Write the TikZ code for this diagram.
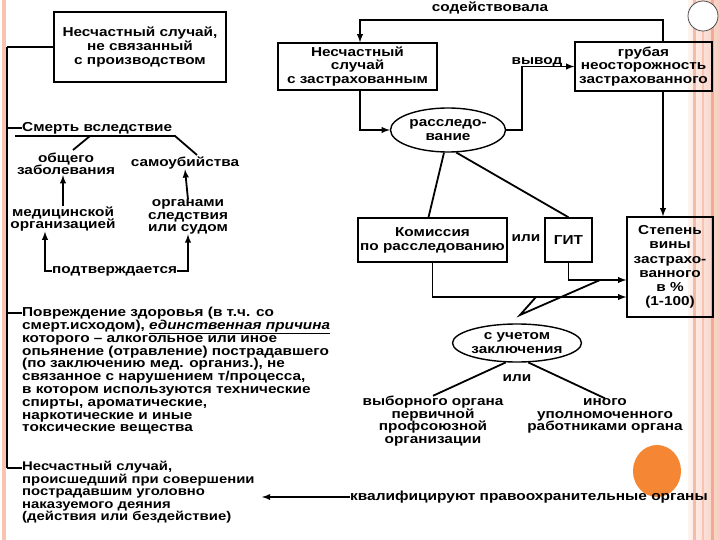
\documentclass[tikz,border=0pt]{standalone}
\usepackage{fontspec}
\setmainfont{Liberation Sans}[FakeStretch=1.18]
\usetikzlibrary{shapes.geometric}
\definecolor{salmon}{RGB}{243,170,148}
\definecolor{peach}{RGB}{252,226,214}
\definecolor{dotorange}{RGB}{245,134,52}
\tikzset{
  box/.style={draw, line width=1.4pt, align=center, inner sep=1pt},
  oval/.style={draw, ellipse, line width=1.4pt, align=center, inner sep=0pt},
  txt/.style={align=center, inner sep=0pt},
  line/.style={line width=1.8pt},
}

\begin{document}
\begin{tikzpicture}[x=1pt, y=-1pt, font=\bfseries\fontsize{13}{13.8}\selectfont]
                    \useasboundingbox (0,0) rectangle (720,540);
                    \fill[white] (0,0) rectangle (720,540);
                    \fill[salmon!70] (2,0) rectangle (6,540);
                    \shade[left color=peach!40, right color=salmon!60] (688,0) rectangle (720,540);
                    \fill[salmon!80] (693,0) rectangle (696,540);
                    \fill[salmon!70] (702,0) rectangle (704,540);
                    \fill[salmon] (711,0) rectangle (714,540);
                    \draw[gray!60!black, line width=0.8pt, fill=white] (703,16) circle (15pt);
                    \fill[dotorange] (657,471) ellipse (24pt and 26pt);

                    \node[box, minimum width=172, minimum height=70] (nsProizv) at (140,47) {Несчастный случай,\\ не связанный\\ с производством};
                    \node[box, minimum width=159, minimum height=47] (nsZastr) at (357.5,66.5) {Несчастный\\ случай\\ с застрахованным};
                    \node[box, minimum width=137, minimum height=49] (grubaya) at (643.5,66.5) {грубая\\ неосторожность\\ застрахованного};
                    \node[oval, minimum width=115, minimum height=44] (rassl) at (448,130) {расследо-\\вание};
                    \node[txt] (sodeist) at (490,8) {содействовала};
                    \node[txt] (vyvod) at (537,62) {вывод};

                    \node[box, minimum width=149, minimum height=44] (komis) at (432.5,240) {Комиссия\\ по расследованию};
                    \node[txt] (ili1) at (526,238) {или};
                    \node[box, minimum width=47, minimum height=44] (git) at (568.5,240) {ГИТ};
                    \node[box, minimum width=86, minimum height=100, font=\bfseries\fontsize{13}{14.2}\selectfont] (stepen) at (670,267) {Степень\\ вины\\ застрахо-\\ванного\\ в \%\\ (1-100)};
                    \node[oval, minimum width=110, minimum height=38] (uchet) at (517,343) {с учетом\\ заключения};
                    \node[txt] (ili2) at (517,378) {или};
                    \node[txt, font=\bfseries\fontsize{13}{12.6}\selectfont] (vybor) at (433,421) {выборного органа\\ первичной\\ профсоюзной\\ организации};
                    \node[txt, font=\bfseries\fontsize{13}{12.6}\selectfont] (inogo) at (605,416) {иного\\ уполномоченного\\ работниками органа};

                    \node[txt, anchor=west] (smert) at (22,128) {Смерть вследствие};
                    \node[txt, font=\bfseries\fontsize{13}{12.4}\selectfont] (obsh) at (66,164) {общего\\ заболевания};
                    \node[txt] (samoub) at (185,163) {самоубийства};
                    \node[txt, font=\bfseries\fontsize{13}{12.6}\selectfont] (medorg) at (63,219) {медицинской\\ организацией};
                    \node[txt, font=\bfseries\fontsize{13}{12.4}\selectfont] (organy) at (188,217) {органами\\ следствия\\ или судом};
                    \node[txt, anchor=west] (podtv) at (52,271) {подтверждается};
                    \node[txt, anchor=north west, align=left, font=\bfseries\fontsize{13}{12.8}\selectfont] (povr) at (22,307) {Повреждение здоровья (в т.ч. со\\ смерт.исходом), \underline{\textit{единственная причина}}\\ которого – алкогольное или иное\\ опьянение (отравление) пострадавшего\\ (по заключению мед. организ.), не\\ связанное с нарушением т/процесса,\\ в котором используются технические\\ спирты, ароматические,\\ наркотические и иные\\ токсические вещества};
                    \node[txt, anchor=north west, align=left, font=\bfseries\fontsize{12.6}{12.6}\selectfont] (nsPrest) at (22,461) {Несчастный случай,\\ происшедший при совершении\\ пострадавшим уголовно\\ наказуемого деяния\\ (действия или бездействие)};
                    \node[txt, anchor=west, font=\bfseries\fontsize{13.1}{14}\selectfont] (kvalif) at (350,497) {квалифицируют правоохранительные органы};

                    \coordinate (spineTop) at (7,47);
                    \coordinate (spineBot) at (7,468);
                    \coordinate (tPovr) at (7,313);
                    \coordinate (smertL) at (15,136);
                    \coordinate (smertM) at (90,136);
                    \coordinate (smertR) at (175,136);
                    \coordinate (obshTop) at (73,150);
                    \coordinate (samoubTop) at (197,155);
                    \coordinate (sodL) at (360,20);
                    \coordinate (sodR) at (663,20);
                    \coordinate (bend) at (522,0);
                    \coordinate (apex) at (520,315);
                    \coordinate (apexL) at (536,297);
                    \coordinate (apexR) at (600,280);
                    \coordinate (kvTip) at (262,497);

                    \draw[line] (spineTop) -- (spineBot);
                    \draw[line] (spineTop) -- (nsProizv.west);
                    \draw[line] (smert.west -| spineTop) -- (smert.west);
                    \draw[line] (tPovr) -- (povr.north west |- tPovr);
                    \draw[line] (spineBot) -- (nsPrest.north west |- spineBot);
                    \draw[line] (smertL) -- (smertR) -- (samoubTop);
                    \draw[line] (smertM) -- (obshTop);
                    \draw[line,-latex] (medorg.north) -- (obsh.south -| medorg.north);
                    \draw[line,-latex] (organy.north) -- (samoub.south);
                    \draw[line,-latex] (podtv.west) -| ([xshift=-18]medorg.south);
                    \draw[line,-latex] (podtv.east) -| (organy.south);

                    \draw[line,-latex] (grubaya.north -| sodR) -- (sodR) -- (sodL) -- (nsZastr.north -| sodL);
                    \draw[line,-latex] (nsZastr.south -| sodL) |- (rassl.west);
                    \draw[line,-latex] (rassl.east) -- (rassl.east -| bend) -- (bend |- grubaya.west) -- (grubaya.west);
                    \draw[line,-latex] (grubaya.south -| sodR) -- (stepen.north -| sodR);
                    \draw[line] (rassl.-100) -- ([xshift=-4]komis.north);
                    \draw[line] (rassl.-70) -- (git.north);
                    \draw[line,-latex] (git.south) |- ([yshift=-13]stepen.west);
                    \draw[line,-latex] (komis.south) |- ([yshift=-30]stepen.west);
                    \draw[line] (apexL) -- (apex) -- (apexR);
                    \draw[line] (uchet.-120) -- (vybor.north);
                    \draw[line] (uchet.-60) -- (inogo.north);
                    \draw[line,-latex] (kvalif.west) -- (kvTip);
                \end{tikzpicture}
\end{document}
